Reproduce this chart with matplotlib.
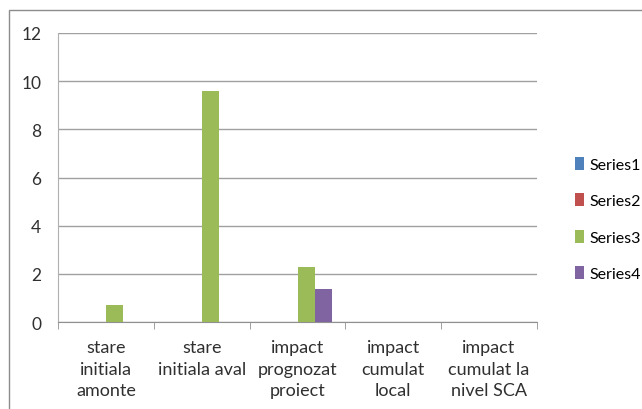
import numpy as np
import matplotlib.pyplot as plt
from matplotlib.patches import Rectangle

categories = ["stare\ninitiala\namonte", "stare\ninitiala aval", "impact\nprognozat\nproiect",
              "impact\ncumulat\nlocal", "impact\ncumulat la\nnivel SCA"]
series_names = ["Series1", "Series2", "Series3", "Series4"]
series1 = [0, 0, 0, 0, 0]
series2 = [0, 0, 0, 0, 0]
series3 = [0.7, 9.6, 2.3, 0, 0]
series4 = [0, 0, 1.35, 0, 0]
colors = ["#4f81bd", "#c0504d", "#9bbb59", "#8064a2"]

plt.rcParams['font.family'] = ['Lato', 'DejaVu Sans']

fig = plt.figure(figsize=(6.42, 4.10), dpi=100)
ax = fig.add_axes([58/642, 1 - 323/410, (537-58)/642, (323-34)/410])

# outer chart border
fig.patches.append(Rectangle((9/642, -0.1), 1.1, 1 - 11/410 + 0.1, transform=fig.transFigure,
                             fill=False, edgecolor="#8c8c8c", linewidth=1.0))

x = np.arange(len(categories))
w = 1 / 5.5
for i, vals in enumerate([series1, series2, series3, series4]):
    ax.bar(x + (i - 2) * w, vals, width=w, align='edge', color=colors[i],
           label=series_names[i], zorder=3)

ax.set_xlim(-0.5, len(categories) - 0.5)
ax.set_ylim(0, 12)
ax.set_yticks(range(0, 13, 2))
ax.yaxis.grid(True, color="#a0a0a0", linewidth=1.0, zorder=0)
ax.set_axisbelow(True)

ax.set_xticks(x)
ax.set_xticklabels(categories, fontsize=13, color="#303030", linespacing=1.45)
ax.tick_params(axis='x', length=0, pad=12)
ax.set_xticks(np.arange(-0.5, len(categories)), minor=True)
ax.tick_params(axis='x', which='minor', length=5, color="#909090")
ax.tick_params(axis='y', length=0, labelsize=12.5, labelcolor="#303030", pad=12)

for s in ['top', 'right']:
    ax.spines[s].set_visible(False)
ax.spines['left'].set_color("#b0b0b0")
ax.spines['bottom'].set_color("#909090")

ax.legend(loc='center left', bbox_to_anchor=(569/642, 1 - 220/410), bbox_transform=fig.transFigure,
          frameon=False, fontsize=11.5, handlelength=0.55, handleheight=0.85, handletextpad=0.35,
          labelspacing=1.35, borderaxespad=0)

fig.savefig("out.png", dpi=100)
